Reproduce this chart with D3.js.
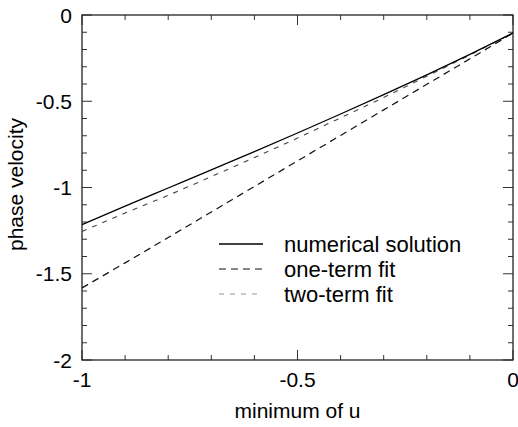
<!DOCTYPE html>
<html>
<head>
<meta charset="utf-8">
<script src="https://cdn.jsdelivr.net/npm/d3@7"></script>
<style>
  body { margin: 0; background: #fff; }
  text { font-family: "Liberation Sans", Arial, sans-serif; fill: #000; }
</style>
</head>
<body>
<svg width="518" height="427"></svg>
<script>
// values
var minU = [-1, -0.9, -0.8, -0.7, -0.6, -0.5, -0.4, -0.3, -0.2, -0.1, 0];
var numerical = [-1.215, -1.108, -1.003, -0.898, -0.792, -0.684, -0.574, -0.462, -0.347, -0.228, -0.104];
var oneTerm = [-1.582, -1.437, -1.29, -1.142, -0.994, -0.846, -0.698, -0.55, -0.402, -0.254, -0.105];
var twoTerm = [-1.255, -1.148, -1.045, -0.937, -0.826, -0.713, -0.596, -0.478, -0.355, -0.232, -0.104];
var xTicks = [-1, -0.5, 0];
var yTicks = [0, -0.5, -1, -1.5, -2];
var legendNames = ["numerical solution", "one-term fit", "two-term fit"];

var svg = d3.select("svg"),
    margin = {top: 15, right: 5, bottom: 67, left: 82},
    width = +svg.attr("width") - margin.left - margin.right,
    height = +svg.attr("height") - margin.top - margin.bottom,
    g = svg.append("g").attr("transform", "translate(" + margin.left + "," + margin.top + ")");

var x = d3.scaleLinear().domain([-1, 0]).range([0, width]);
var y = d3.scaleLinear().domain([-2, 0]).range([height, 0]);

var minorX = d3.range(-10, 1).map(function(d) { return d / 10; });
var minorY = d3.range(-20, 1).map(function(d) { return d / 10; });

function isMajor(v) { return Math.abs(v * 2 - Math.round(v * 2)) < 1e-6; }

// inward ticks on all four sides
var tickG = g.append("g").attr("stroke", "#333").attr("stroke-width", 1);
minorX.forEach(function(v) {
  var len = isMajor(v) ? 10 : 5;
  tickG.append("line").attr("x1", x(v)).attr("x2", x(v)).attr("y1", height).attr("y2", height - len);
  tickG.append("line").attr("x1", x(v)).attr("x2", x(v)).attr("y1", 0).attr("y2", len);
});
minorY.forEach(function(v) {
  var len = isMajor(v) ? 10 : 5;
  tickG.append("line").attr("y1", y(v)).attr("y2", y(v)).attr("x1", 0).attr("x2", len);
  tickG.append("line").attr("y1", y(v)).attr("y2", y(v)).attr("x1", width).attr("x2", width - len);
});

g.append("rect")
  .attr("width", width).attr("height", height)
  .attr("fill", "none").attr("stroke", "#222").attr("stroke-width", 1.3);

g.selectAll(".xlab").data(xTicks).enter().append("text")
  .attr("x", function(d) { return x(d); })
  .attr("y", height + 27)
  .attr("text-anchor", "middle")
  .style("font-size", "21px")
  .text(function(d) { return String(d); });

g.selectAll(".ylab").data(yTicks).enter().append("text")
  .attr("x", -10)
  .attr("y", function(d) { return y(d); })
  .attr("dy", "0.36em")
  .attr("text-anchor", "end")
  .style("font-size", "21px")
  .text(function(d) { return String(d); });

g.append("text")
  .attr("x", width / 2)
  .attr("y", height + 58)
  .attr("text-anchor", "middle")
  .style("font-size", "21px")
  .text("minimum of u");

g.append("text")
  .attr("transform", "rotate(-90)")
  .attr("x", -height / 2 + 3)
  .attr("y", -59)
  .attr("text-anchor", "middle")
  .style("font-size", "21px")
  .text("phase velocity");

var series = [
  {name: legendNames[0], values: numerical, color: "#000", dash: null, w: 1.3},
  {name: legendNames[1], values: oneTerm, color: "#111", dash: "7,5", w: 1.2},
  {name: legendNames[2], values: twoTerm, color: "#444", dash: "5,6", w: 1.1}
];

var line = d3.line()
    .x(function(d, i) { return x(minU[i]); })
    .y(function(d) { return y(d); })
    .curve(d3.curveMonotoneX);

// draw two-term first so numerical sits on top
[series[2], series[1], series[0]].forEach(function(s) {
  g.append("path")
    .datum(s.values)
    .attr("fill", "none")
    .attr("stroke", s.color)
    .attr("stroke-width", s.w)
    .attr("stroke-dasharray", s.dash)
    .attr("d", line);
});

var legend = g.append("g").attr("transform", "translate(137,229)");
series.forEach(function(s, i) {
  var ly = i * 25;
  legend.append("line")
    .attr("x1", 0).attr("x2", 44).attr("y1", ly).attr("y2", ly)
    .attr("stroke", i == 2 ? "#999" : s.color)
    .attr("stroke-width", s.w)
    .attr("stroke-dasharray", s.dash);
  legend.append("text")
    .attr("x", 65).attr("y", ly).attr("dy", "0.36em")
    .style("font-size", "22px")
    .text(s.name);
});
</script>
</body>
</html>
